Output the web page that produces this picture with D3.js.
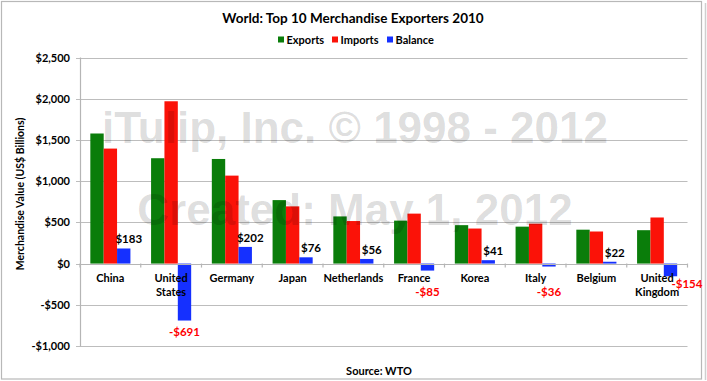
<!DOCTYPE html>
<html>
<head>
<meta charset="utf-8">
<script src="https://cdn.jsdelivr.net/npm/d3@7/dist/d3.min.js"></script>
<style>
  html, body { margin: 0; padding: 0; background: #fff; }
  svg { display: block; }
  text { font-family: Lato, "Open Sans", sans-serif; font-weight: bold; }
</style>
</head>
<body>
<svg id="chart" width="707" height="381"></svg>
<script>
const categories = ["China", "United States", "Germany", "Japan", "Netherlands", "France", "Korea", "Italy", "Belgium", "United Kingdom"];
const seriesNames = ["Exports", "Imports", "Balance"];
const exportsValues = [1578, 1278, 1269, 770, 572, 521, 466, 448, 411, 405];
const importsValues = [1395, 1969, 1067, 694, 516, 606, 425, 484, 389, 559];
const balanceValues = [183, -691, 202, 76, 56, -85, 41, -36, 22, -154];
const yTicks = [-1000, -500, 0, 500, 1000, 1500, 2000, 2500];
const seriesColors = ["#0a7d0a", "#fb1208", "#1530ff"];

const title = "World: Top 10 Merchandise Exporters 2010";
const yTitle = "Merchandise Value (US$ Billions)";
const sourceText = "Source: WTO";
const watermark1 = "iTulip, Inc. \u00A9 1998 - 2012";
const watermark2 = "Created: May 1, 2012";

const svg = d3.select("#chart");
const plot = { left: 80, right: 687.5, top: 57.5, bottom: 346 };

// frame
svg.append("rect").attr("x", 1.5).attr("y", 1.5).attr("width", 700).attr("height", 377.5)
  .attr("fill", "#fff").attr("stroke", "#b8b8b8").attr("stroke-width", 1.2);
svg.append("line").attr("x1", 705.5).attr("x2", 705.5).attr("y1", 3).attr("y2", 380)
  .attr("stroke", "#cfcfcf").attr("stroke-width", 1.5);

const y = d3.scaleLinear().domain([-1000, 2500]).range([plot.bottom, plot.top]);
const x0 = d3.scaleBand().domain(categories).range([plot.left, plot.right])
  .paddingInner(0.34).paddingOuter(0.17);
const x1 = d3.scaleBand().domain(seriesNames).range([0, x0.bandwidth()]);
const color = d3.scaleOrdinal().domain(seriesNames).range(seriesColors);
const fmt = v => (v < 0 ? "-$" : "$") + d3.format(",")(Math.abs(v));

// gridlines
svg.append("g").selectAll("line").data(yTicks).join("line")
  .attr("x1", plot.left - 4).attr("x2", plot.right)
  .attr("y1", d => Math.round(y(d)) + 0.5).attr("y2", d => Math.round(y(d)) + 0.5)
  .attr("stroke", "#bdbdbd").attr("stroke-width", 1.2);

// y axis line
svg.append("line").attr("x1", plot.left + 0.5).attr("x2", plot.left + 0.5)
  .attr("y1", plot.top).attr("y2", plot.bottom + 0.5)
  .attr("stroke", "#b5b5b5").attr("stroke-width", 1.2);

// y tick labels
svg.append("g").selectAll("text").data(yTicks).join("text")
  .attr("x", 70).attr("y", d => y(d) + 4)
  .attr("text-anchor", "end").attr("font-size", 11).attr("fill", "#000")
  .text(fmt);

// x axis ticks at group boundaries
const step = x0.step();
const boundaries = d3.range(categories.length + 1).map(i => plot.left + i * step);
svg.append("g").selectAll("line").data(boundaries).join("line")
  .attr("x1", d => d).attr("x2", d => d)
  .attr("y1", y(0)).attr("y2", y(0) + 4)
  .attr("stroke", "#b5b5b5").attr("stroke-width", 1.2);

// bars
const data = categories.map((c, i) => ({
  cat: c,
  vals: [
    { s: "Exports", v: exportsValues[i] },
    { s: "Imports", v: importsValues[i] },
    { s: "Balance", v: balanceValues[i] }
  ]
}));
const groups = svg.append("g").selectAll("g").data(data).join("g")
  .attr("transform", d => `translate(${x0(d.cat)},0)`);
groups.selectAll("rect").data(d => d.vals).join("rect")
  .attr("x", d => x1(d.s)).attr("width", x1.bandwidth())
  .attr("y", d => y(Math.max(0, d.v)))
  .attr("height", d => Math.abs(y(d.v) - y(0)))
  .attr("fill", d => color(d.s));

// zero line on top
svg.append("line").attr("x1", plot.left).attr("x2", plot.right)
  .attr("y1", Math.round(y(0)) + 0.5).attr("y2", Math.round(y(0)) + 0.5)
  .attr("stroke", "#b5b5b5").attr("stroke-width", 1.2);

// category labels
const catBoxes = {};
const catLabels = svg.append("g").selectAll("text").data(categories).join("text")
  .attr("x", d => x0(d) + x0.bandwidth() / 2)
  .attr("y", 282)
  .attr("text-anchor", "middle").attr("font-size", 11).attr("fill", "#000");
catLabels.each(function(d) {
  const words = d.split(" ");
  const t = d3.select(this);
  words.forEach((w, i) => {
    t.append("tspan").attr("x", x0(d) + x0.bandwidth() / 2)
      .attr("dy", i === 0 ? 0 : 14).text(w);
  });
  catBoxes[d] = this.getBBox();
});

// balance labels (negative labels avoid the category labels)
const zeroY = y(0);
const overlaps = (a, b, inset) => !(a.x + a.width < b.x || b.x + b.width < a.x ||
  a.y + a.height - inset < b.y + inset || b.y + b.height - inset < a.y + inset);
svg.append("g").selectAll("text").data(categories.map((c, i) => ({ cat: c, v: balanceValues[i] }))).join("text")
  .attr("x", d => x0(d.cat) + x1("Balance") + x1.bandwidth() / 2 + (d.v >= 0 ? 5 : 0))
  .attr("y", d => d.v >= 0 ? y(d.v) - 5 : Math.max(y(d.v) + 15, zeroY + 32))
  .attr("text-anchor", "middle").attr("font-size", 11.5)
  .attr("fill", d => d.v >= 0 ? "#000" : "#ff0000")
  .text(d => fmt(d.v))
  .each(function(d) {
    if (d.v >= 0) return;
    const b = this.getBBox();
    if (overlaps(b, catBoxes[d.cat], 2.5)) {
      d3.select(this)
        .attr("text-anchor", "start")
        .attr("x", x0(d.cat) + x1("Balance") + x1.bandwidth() / 2 + 1)
        .attr("y", y(d.v) + 12);
    }
  });

// title
svg.append("text").attr("x", 353).attr("y", 22.5).attr("text-anchor", "middle")
  .attr("font-size", 13.5).attr("fill", "#000").text(title);

// legend
const legendX = [278, 332, 387];
const leg = svg.append("g").selectAll("g").data(seriesNames).join("g")
  .attr("transform", (d, i) => `translate(${legendX[i]},0)`);
leg.append("rect").attr("x", 0).attr("y", 36.5).attr("width", 6).attr("height", 6)
  .attr("fill", d => color(d));
leg.append("text").attr("x", 8.5).attr("y", 43.5).attr("font-size", 11).attr("fill", "#000")
  .text(d => d);

// y axis title
svg.append("text").attr("transform", "translate(24,194) rotate(-90)")
  .attr("text-anchor", "middle").attr("font-size", 10.5).attr("fill", "#000").text(yTitle);

// source
svg.append("text").attr("x", 379).attr("y", 375).attr("text-anchor", "middle")
  .attr("font-size", 11).attr("fill", "#000").text(sourceText);

// watermark (overlay)
[[watermark1, 143], [watermark2, 225]].forEach(([t, yy]) => {
  svg.append("text").attr("x", 355).attr("y", yy).attr("text-anchor", "middle")
    .style("font-family", "'Liberation Sans', Arial, sans-serif")
    .style("font-weight", "bold")
    .attr("font-size", 44).attr("fill", "#000").attr("fill-opacity", 0.14)
    .attr("pointer-events", "none")
    .text(t);
});
</script>
</body>
</html>
